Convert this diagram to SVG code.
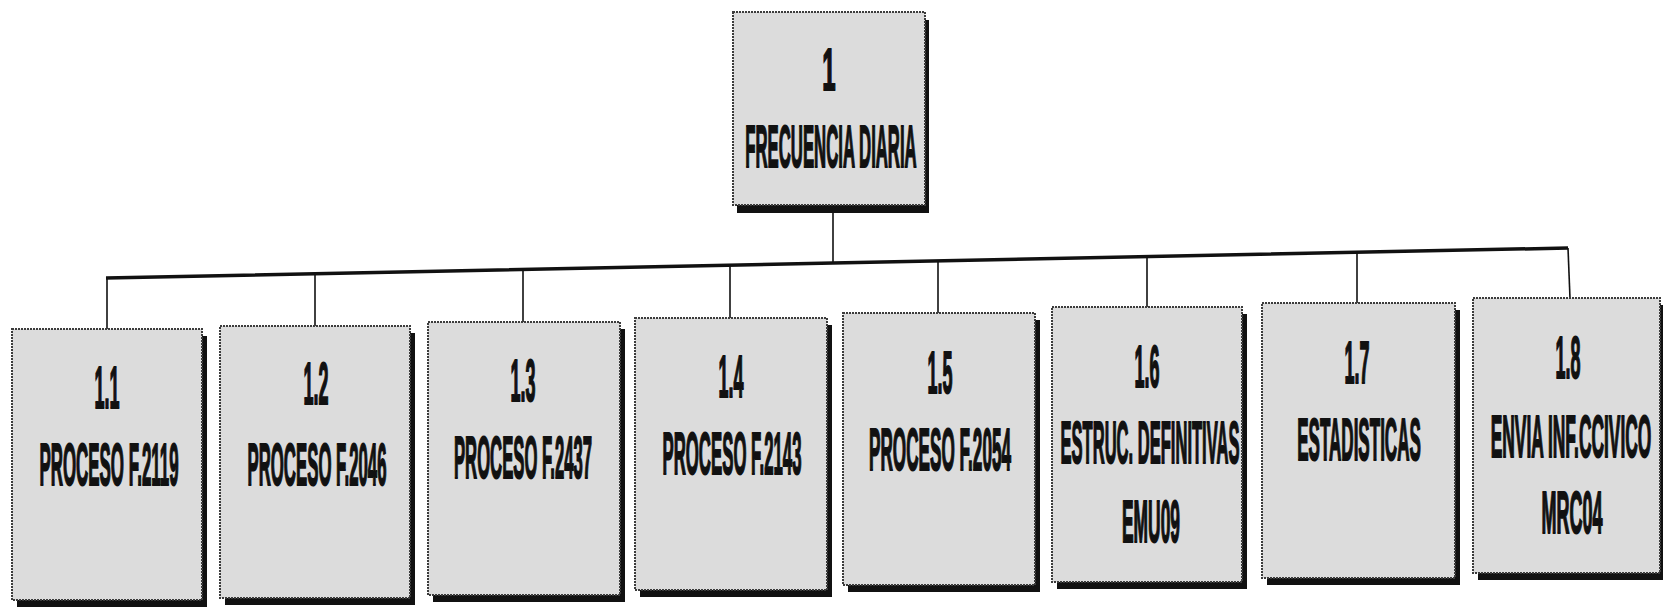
<svg xmlns="http://www.w3.org/2000/svg" width="1663" height="608" viewBox="0 0 1663 608">
<style>
.shadow{fill:#111}
.box{fill:#dcdcdc;stroke:#3c3c3c;stroke-width:2;stroke-dasharray:2 1}
.t{font-family:"Liberation Sans",Arial,sans-serif;font-weight:bold;font-size:60px;fill:#111;stroke:#111;stroke-width:2;text-anchor:middle}
.bus{stroke:#111;stroke-width:3.5;fill:none}
.drop{stroke:#111;stroke-width:1.6;fill:none}
</style>
<rect width="1663" height="608" fill="#ffffff"/>
<g id="connectors">
<line class="drop" x1="833" y1="213" x2="833" y2="263"/>
<polyline class="bus" points="106,278 833,263 1568,248"/>
<line class="drop" x1="107" y1="278" x2="107" y2="329"/>
<line class="drop" x1="315" y1="274" x2="315" y2="326"/>
<line class="drop" x1="523" y1="269.5" x2="523" y2="322"/>
<line class="drop" x1="730" y1="265" x2="730" y2="318"/>
<line class="drop" x1="938" y1="261" x2="938" y2="313"/>
<line class="drop" x1="1147" y1="257" x2="1147" y2="307"/>
<line class="drop" x1="1357" y1="252" x2="1357" y2="303"/>
<line class="drop" x1="1568" y1="248" x2="1570" y2="298"/>
</g>
<g id="n1">
<rect class="shadow" x="737" y="20" width="192" height="193"/>
<rect class="box" x="733" y="12" width="192" height="193"/>
<text class="t" transform="translate(829,90) scale(0.4,1)">1</text>
<text class="t" transform="translate(831,167) scale(0.279,1)">FRECUENCIA DIARIA</text>
</g>
<g id="n1_1">
<rect class="shadow" x="17" y="336" width="190" height="271"/>
<rect class="box" x="12" y="329" width="190" height="271"/>
<text class="t" transform="translate(107,408) scale(0.3,1)">1.1</text>
<text class="t" transform="translate(109,485) scale(0.282,1)">PROCESO F.2119</text>
</g>
<g id="n1_2">
<rect class="shadow" x="225" y="333" width="190" height="272"/>
<rect class="box" x="220" y="326" width="190" height="272"/>
<text class="t" transform="translate(316,404) scale(0.3,1)">1.2</text>
<text class="t" transform="translate(317,485) scale(0.28,1)">PROCESO F.2046</text>
</g>
<g id="n1_3">
<rect class="shadow" x="433" y="329" width="192" height="273"/>
<rect class="box" x="428" y="322" width="192" height="273"/>
<text class="t" transform="translate(523,401) scale(0.3,1)">1.3</text>
<text class="t" transform="translate(523,478) scale(0.278,1)">PROCESO F.2437</text>
</g>
<g id="n1_4">
<rect class="shadow" x="640" y="325" width="192" height="272"/>
<rect class="box" x="635" y="318" width="192" height="272"/>
<text class="t" transform="translate(731,397) scale(0.3,1)">1.4</text>
<text class="t" transform="translate(732,474) scale(0.28,1)">PROCESO F.2143</text>
</g>
<g id="n1_5">
<rect class="shadow" x="848" y="320" width="192" height="272"/>
<rect class="box" x="843" y="313" width="192" height="272"/>
<text class="t" transform="translate(940,393) scale(0.3,1)">1.5</text>
<text class="t" transform="translate(940,470) scale(0.286,1)">PROCESO F.2054</text>
</g>
<g id="n1_6">
<rect class="shadow" x="1057" y="314" width="190" height="275"/>
<rect class="box" x="1052" y="307" width="190" height="275"/>
<text class="t" transform="translate(1147,387) scale(0.3,1)">1.6</text>
<text class="t" transform="translate(1150,463) scale(0.276,1)">ESTRUC. DEFINITIVAS</text>
<text class="t" transform="translate(1151,542) scale(0.29,1)">EMU09</text>
</g>
<g id="n1_7">
<rect class="shadow" x="1267" y="310" width="193" height="275"/>
<rect class="box" x="1262" y="303" width="193" height="275"/>
<text class="t" transform="translate(1357,383) scale(0.3,1)">1.7</text>
<text class="t" transform="translate(1359,460) scale(0.284,1)">ESTADISTICAS</text>
</g>
<g id="n1_8">
<rect class="shadow" x="1478" y="305" width="190" height="275"/>
<rect class="box" x="1473" y="298" width="187" height="275"/>
<text class="t" transform="translate(1568,378) scale(0.3,1)">1.8</text>
<text class="t" transform="translate(1571,457) scale(0.29,1)">ENVIA INF.CCIVICO</text>
<text class="t" transform="translate(1572,533) scale(0.3,1)">MRC04</text>
</g>
</svg>
